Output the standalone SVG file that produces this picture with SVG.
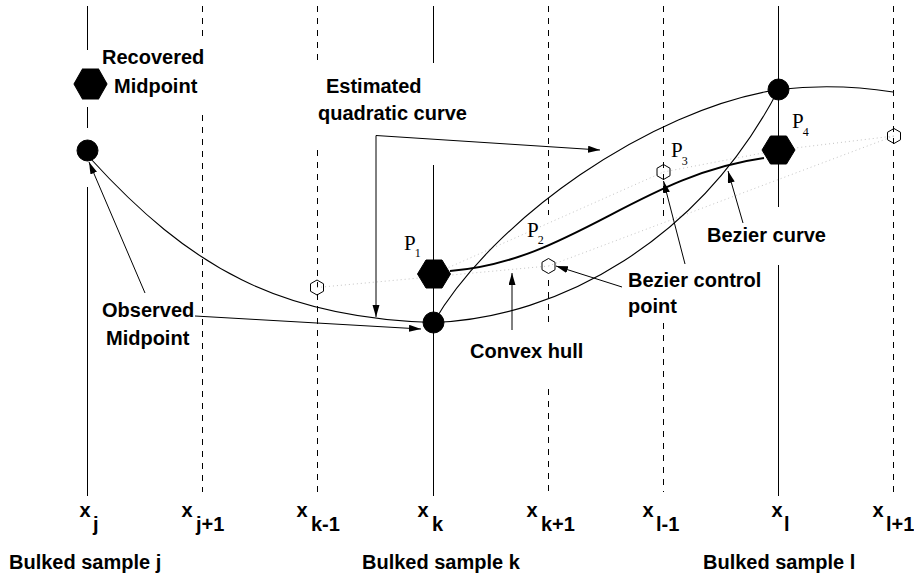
<svg xmlns="http://www.w3.org/2000/svg" xmlns:xlink="http://www.w3.org/1999/xlink" width="914" height="575" viewBox="0 0 914 575">
<style>
.solid{stroke:#000;stroke-width:1;fill:none}
.dash{stroke:#000;stroke-width:1;fill:none;stroke-dasharray:6 6}
.dot{stroke:#c4c4c4;stroke-width:1;fill:none;stroke-dasharray:1 3}
.curve{stroke:#000;stroke-width:1.1;fill:none}
.bez{stroke:#000;stroke-width:2;fill:none}
.arr{stroke:#000;stroke-width:1;fill:none;marker-end:url(#ah)}
.lbl{font-family:"Liberation Sans",Arial,Helvetica,sans-serif;font-weight:bold;font-size:20px;fill:#000}
.pl{font-family:"Liberation Serif","Times New Roman",serif;font-size:21px;fill:#000}
.ps{font-size:12px}
.big{fill:#000;stroke:#000}
.small{fill:none;stroke:#000;stroke-width:1}
</style>
<defs>
<marker id="ah" markerUnits="userSpaceOnUse" markerWidth="14" markerHeight="8" refX="12" refY="3.5" orient="auto">
<path d="M0,0 L12,3.5 L0,7 Z" fill="#000"/>
</marker>
<polygon id="bhex" points="-16.5,0 -8,-14 8,-14 16.5,0 8,14 -8,14"/>
<polygon id="shex" points="0,-7.5 6.5,-3.75 6.5,3.75 0,7.5 -6.5,3.75 -6.5,-3.75"/>
</defs>
<rect width="914" height="575" fill="#fff"/>

<g id="gridlines">
<path class="solid" d="M87.5,6V50 M87.5,107V128 M87.5,187V496"/>
<path class="dash" d="M202.5,6V36 M202.5,115V492"/>
<path class="dash" d="M317.5,6V62 M317.5,150V492"/>
<path class="solid" d="M433.5,6V63 M433.5,165V496"/>
<path class="dash" d="M548.5,6V215 M548.5,280V325 M548.5,389V492"/>
<path class="dash" d="M663.5,6V217 M663.5,323V492"/>
<path class="solid" d="M778.5,6V207 M778.5,265V496"/>
<path class="dash" d="M893.5,6V496"/>
</g>

<g id="hull">
<path class="dot" d="M317,287.5 L548.5,266 M434,274 L663.5,172 M548.5,266 L894,136 M663.5,172 L778.5,150 L894,136"/>
</g>

<g id="curves">
<path class="curve" d="M90,158 C190,268 280,318 433.5,322.5"/>
<path class="curve" d="M433.5,322.5 C493,220 649,109.5 778.5,89.5 Q836,83 893,92"/>
<path class="curve" d="M433.5,322.5 C560,318 700,240 778.5,89.5"/>
<path class="bez" d="M450,271 C570,262 640,175 764,158"/>
</g>

<g id="connectors">
<path class="arr" d="M145,293 L89,162"/>
<path class="arr" d="M195,316 L421,329"/>
<path class="arr" d="M376,135.5 L376,317"/>
<path class="arr" d="M376,135.5 L600,150"/>
<path class="arr" d="M512,330 L512,273"/>
<path class="arr" d="M622,287 L556,266"/>
<path class="arr" d="M685,264 L663.5,181"/>
<path class="arr" d="M743,223 L728,171"/>
</g>

<g id="recovered-midpoint"><use xlink:href="#bhex" class="big" transform="translate(90.5,84) scale(1,1.07)"/></g>
<g id="observed-j"><circle class="big" cx="87.5" cy="150.5" r="10.5"/></g>
<g id="observed-k"><circle class="big" cx="433.5" cy="322.5" r="10.5"/></g>
<g id="observed-l"><circle class="big" cx="778.5" cy="89.5" r="10.5"/></g>
<g id="P1"><use xlink:href="#bhex" class="big" x="434" y="274"/>
<text class="pl" x="404" y="250">P<tspan class="ps" dx="-1" dy="7">1</tspan></text></g>
<g id="P4"><use xlink:href="#bhex" class="big" x="778.5" y="150"/>
<text class="pl" x="792" y="128">P<tspan class="ps" dx="-1" dy="8">4</tspan></text></g>
<g id="P2"><text class="pl" x="527" y="237">P<tspan class="ps" dx="-1" dy="7">2</tspan></text></g>
<g id="P3"><text class="pl" x="671" y="157">P<tspan class="ps" dx="-1" dy="8">3</tspan></text></g>
<g id="hex-k-1"><use xlink:href="#shex" class="small" x="317" y="287.5"/></g>
<g id="hex-k+1"><use xlink:href="#shex" class="small" x="548.5" y="266"/></g>
<g id="hex-l-1"><use xlink:href="#shex" class="small" x="663.5" y="172"/></g>
<g id="hex-l+1"><use xlink:href="#shex" class="small" x="894" y="136"/></g>

<g id="labels">
<text class="lbl" x="102" y="64">Recovered</text>
<text class="lbl" x="114" y="93">Midpoint</text>
<text class="lbl" x="326" y="93">Estimated</text>
<text class="lbl" x="318" y="120">quadratic curve</text>
<text class="lbl" x="102" y="317">Observed</text>
<text class="lbl" x="106" y="345">Midpoint</text>
<text class="lbl" x="470" y="358">Convex hull</text>
<text class="lbl" x="628" y="287">Bezier control</text>
<text class="lbl" x="628" y="313">point</text>
<text class="lbl" x="707" y="242">Bezier curve</text>
</g>

<g id="axis-labels">
<text class="lbl"><tspan x="79.5" y="517">x</tspan><tspan x="93" y="531">j</tspan></text>
<text class="lbl"><tspan x="181.5" y="517">x</tspan><tspan x="196" y="531">j+1</tspan></text>
<text class="lbl"><tspan x="296.5" y="517">x</tspan><tspan x="311" y="531">k-1</tspan></text>
<text class="lbl"><tspan x="417.5" y="517">x</tspan><tspan x="432" y="531">k</tspan></text>
<text class="lbl"><tspan x="526.5" y="517">x</tspan><tspan x="541" y="531">k+1</tspan></text>
<text class="lbl"><tspan x="642.5" y="517">x</tspan><tspan x="656" y="531">l-1</tspan></text>
<text class="lbl"><tspan x="771.5" y="517">x</tspan><tspan x="784" y="531">l</tspan></text>
<text class="lbl"><tspan x="872.5" y="517">x</tspan><tspan x="886" y="531">l+1</tspan></text>
<text class="lbl" x="9" y="569">Bulked sample j</text>
<text class="lbl" x="362" y="569">Bulked sample k</text>
<text class="lbl" x="703" y="569">Bulked sample l</text>
</g>
</svg>
